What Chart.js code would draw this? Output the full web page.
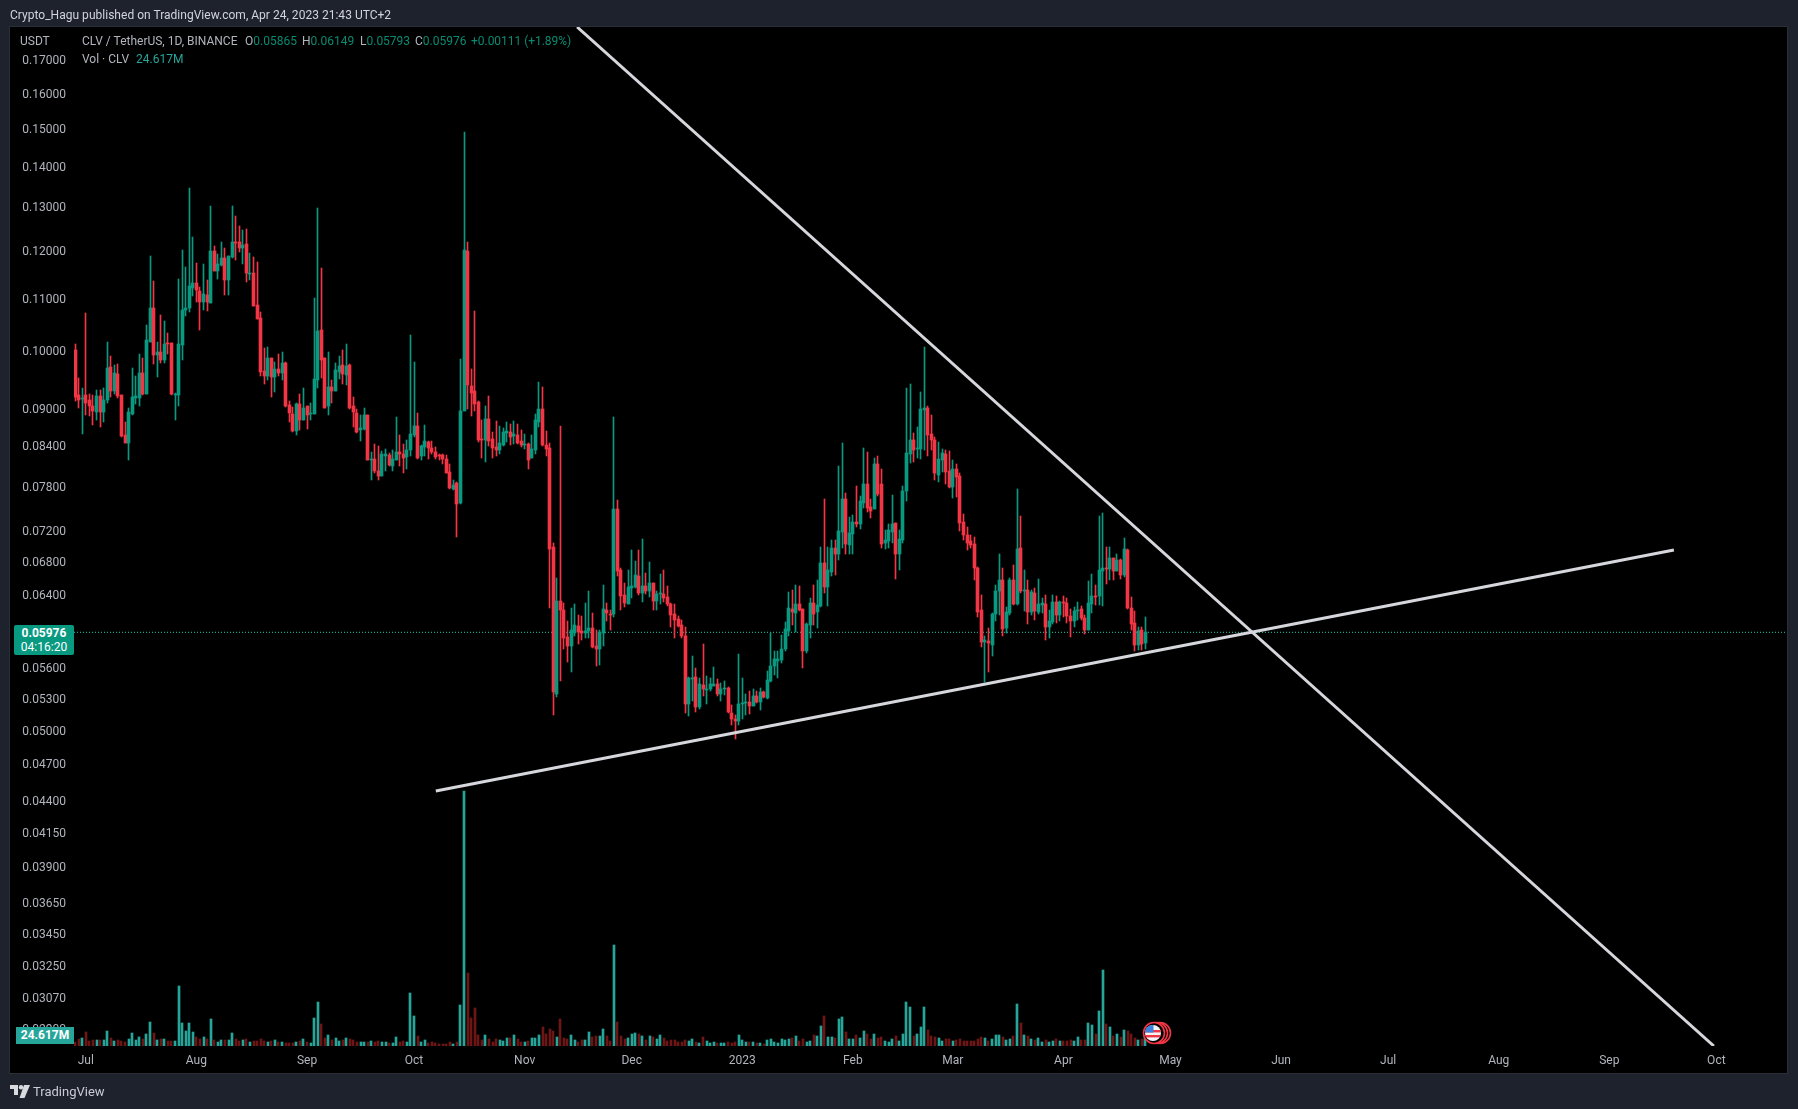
<!DOCTYPE html>
<html><head><meta charset="utf-8">
<script src="https://cdn.jsdelivr.net/npm/chart.js@4"></script>
<style>
html,body{margin:0;padding:0;background:#1e222d;width:1798px;height:1109px;overflow:hidden;font-family:Roboto,sans-serif}
#c{position:absolute;left:0;top:0}
.t{position:absolute;white-space:pre;font-size:12px;line-height:14px;color:#b2b5be}
.g{color:#0b8a72}
.box{position:absolute;color:#fff;text-align:center;font-size:12px}
svg{position:absolute}
</style></head><body>
<canvas id="c" width="1798" height="1109"></canvas>
<div class="t" style="left:10px;top:8px;color:#d1d4dc;letter-spacing:.02px">Crypto_Hagu published on TradingView.com, Apr 24, 2023 21:43 UTC+2</div>
<div class="t" style="left:20px;top:34px">USDT</div>
<div class="t" style="left:82px;top:34px">CLV / TetherUS, 1D, BINANCE</div>
<div class="t" style="left:245px;top:34px">O<span class="g">0.05865</span></div>
<div class="t" style="left:302px;top:34px">H<span class="g">0.06149</span></div>
<div class="t" style="left:360px;top:34px">L<span class="g">0.05793</span></div>
<div class="t" style="left:415px;top:34px">C<span class="g">0.05976</span></div>
<div class="t g" style="left:471px;top:34px;letter-spacing:-.03px">+0.00111 (+1.89%)</div>
<div class="t" style="left:82px;top:52px">Vol · CLV</div>
<div class="t" style="left:136px;top:52px;color:#26a69a">24.617M</div>
<div class="box" style="left:14px;top:625px;width:60px;height:30px;background:#089981;border-radius:2px;line-height:14px;padding-top:1px;box-sizing:border-box"><b>0.05976</b><br>04:16:20</div>
<div class="box" style="left:16px;top:1027px;width:58px;height:17px;background:#26a69a;line-height:17px;font-weight:700">24.617M</div>
<svg style="left:1140px;top:1020px" width="34" height="26" viewBox="0 0 34 26">
 <circle cx="20" cy="13" r="10.5" fill="#000" stroke="#f23645" stroke-width="1.6"/>
 <circle cx="17" cy="13" r="10.5" fill="#000" stroke="#f23645" stroke-width="1.6"/>
 <circle cx="14" cy="13" r="10.5" fill="#000" stroke="#f23645" stroke-width="1.6"/>
 <clipPath id="f"><circle cx="13" cy="13" r="8"/></clipPath>
 <g clip-path="url(#f)"><rect x="5" y="5" width="16" height="16" fill="#f4f4f4"/>
 <rect x="5" y="10" width="16" height="2.4" fill="#f23645"/><rect x="5" y="15" width="16" height="2.4" fill="#f23645"/>
 <rect x="5" y="5" width="8.5" height="7.5" fill="#3b82e0"/></g>
</svg>
<svg style="left:10px;top:1085px" width="20" height="13" viewBox="0 0 20 13" fill="#d8dae0">
 <path d="M0 0H8V10H4V4H0Z"/><circle cx="11" cy="2.2" r="2.2"/><path d="M14 0H20L14.5 13H9.5Z"/>
</svg>
<div class="t" style="left:33px;top:1084px;font-size:13px;line-height:16px;color:#c9ccd4">TradingView</div>
<script>
const priceTicks=[0.17,0.16,0.15,0.14,0.13,0.12,0.11,0.10,0.09,0.084,0.078,0.072,0.068,0.064,0.056,0.053,0.05,0.047,0.044,0.0415,0.039,0.0365,0.0345,0.0325,0.0307,0.029];
const monthLabels=["Jul","Aug","Sep","Oct","Nov","Dec","2023","Feb","Mar","Apr","May","Jun","Jul","Aug","Sep","Oct"];
const monthDays=[0,31,62,92,123,153,184,215,243,274,304,335,365,396,427,457];
const firstDay=-3;
const opens=[.1001,.0922,.0916,.0922,.0914,.0904,.0894,.0920,.0893,.0913,
.0970,.0929,.0958,.0922,.0857,.0845,.0891,.0917,.0917,.0959,
.0924,.1016,.1081,.0991,.0998,.0982,.1013,.1013,.0923,.0922,
.1010,.1076,.1080,.1121,.1131,.1115,.1093,.1107,.1091,.1199,
.1156,.1169,.1184,.1137,.1187,.1219,.1219,.1205,.1215,.1150,
.1152,.1087,.1061,.0963,.0955,.0986,.0952,.0967,.0959,.0978,
.0905,.0891,.0863,.0907,.0880,.0904,.0890,.0891,.0948,.1038,
.0986,.0903,.0936,.0928,.0962,.0974,.0956,.0974,.0904,.0892,
.0864,.0866,.0888,.0819,.0820,.0802,.0795,.0825,.0826,.0810,
.0819,.0830,.0828,.0823,.0833,.0857,.0871,.0824,.0838,.0846,
.0837,.0830,.0826,.0826,.0820,.0801,.0777,.07855,.07565,.0896,
.1199,.0937,.0928,.0910,.0850,.0849,.0883,.0850,.0838,.0833,
.0842,.0860,.0861,.0856,.0857,.0847,.0841,.0843,.0821,.0834,
.0878,.0898,.0842,.0837,.0698,.0534,.0633,.0623,.0593,.0583,
.0597,.0605,.0599,.0597,.0599,.0602,.0583,.0580,.0597,.0623,
.0618,.0618,.0749,.0670,.0640,.0629,.0648,.0649,.0662,.0642,
.0650,.0645,.0654,.0633,.0641,.0641,.0638,.0629,.0618,.0612,
.0606,.0594,.0524,.0549,.0551,.0521,.0543,.0538,.0539,.0542,
.0544,.0534,.0539,.0540,.0516,.0510,.0508,.0524,.0525,.0526,
.0522,.0532,.0526,.0536,.0530,.0547,.0562,.0567,.0568,.0580,
.0599,.0624,.0619,.0629,.0624,.0578,.0606,.0631,.0620,.0627,
.0678,.0649,.0667,.0697,.0690,.0718,.0763,.0701,.0715,.0731,
.0728,.0757,.0784,.0751,.0748,.0812,.0784,.0703,.0706,.0718,
.0730,.0689,.0707,.0773,.0827,.0849,.0835,.0835,.0897,.0901,
.0859,.0849,.0797,.0819,.0828,.0802,.0779,.0806,.0795,.0731,
.0714,.0706,.0702,.0672,.0622,.0587,.0588,.0584,.0618,.0644,
.0658,.0602,.0619,.0657,.0629,.0697,.0644,.0646,.0620,.0642,
.0620,.0628,.0629,.0604,.0609,.0632,.0617,.0632,.0630,.0616,
.0610,.0621,.0624,.0614,.0600,.0629,.0639,.0639,.0668,.0672,
.0671,.0684,.0669,.0682,.0663,.0695,.0625,.0608,.0584,.0600,
.05865];
const closes=[.0919,.0914,.0917,.0909,.0903,.0895,.0920,.0893,.0914,.0969,
.0928,.0959,.0920,.0856,.0845,.0894,.0918,.0920,.0959,.0924,
.1019,.1081,.0992,.0998,.0982,.1012,.1012,.0923,.0924,.1012,
.1077,.1081,.1125,.1131,.1116,.1093,.1109,.1093,.1199,.1156,
.1171,.1184,.1138,.1188,.1219,.1218,.1205,.1213,.1152,.1152,
.1085,.1060,.0962,.0955,.0986,.0952,.0967,.0960,.0978,.0903,
.0892,.0863,.0907,.0880,.0900,.0889,.0892,.0949,.1036,.0983,
.0901,.0936,.0929,.0965,.0972,.0957,.0972,.0900,.0893,.0862,
.0868,.0889,.0819,.0820,.0802,.0795,.0828,.0827,.0811,.0820,
.0831,.0827,.0822,.0834,.0858,.0871,.0822,.0840,.0848,.0837,
.0830,.0823,.0825,.0820,.0800,.0778,.0782,.0756,.0895,.1201,
.0938,.0925,.0907,.0849,.0849,.0883,.0848,.0837,.0833,.0844,
.0861,.0863,.0854,.0858,.0845,.0841,.0843,.0819,.0836,.0881,
.0898,.0842,.0836,.0696,.0536,.0633,.0623,.0592,.0583,.0600,
.0606,.0598,.0597,.0599,.0602,.0582,.0580,.0598,.0624,.0619,
.0617,.0748,.0669,.0639,.0630,.0649,.0650,.0663,.0642,.0650,
.0645,.0654,.0633,.0641,.0642,.0636,.0629,.0617,.0611,.0605,
.0594,.0524,.0550,.0550,.0521,.0544,.0539,.0539,.0544,.0544,
.0534,.0539,.0540,.0517,.0510,.0508,.0524,.0525,.0526,.0522,
.0532,.0526,.0536,.0531,.0548,.0562,.0569,.0569,.0580,.0601,
.0625,.0620,.0629,.0623,.0578,.0607,.0630,.0618,.0628,.0678,
.0649,.0670,.0697,.0690,.0719,.0763,.0702,.0716,.0731,.0728,
.0760,.0783,.0750,.0746,.0812,.0770,.0702,.0707,.0720,.0728,
.0690,.0709,.0774,.0829,.0849,.0834,.0837,.0899,.0900,.0857,
.0849,.0799,.0820,.0829,.0801,.0779,.0806,.0793,.0730,.0714,
.0704,.0701,.0672,.0620,.0587,.0589,.0586,.0618,.0645,.0658,
.0601,.0620,.0658,.0629,.0696,.0645,.0646,.0620,.0643,.0621,
.0629,.0630,.0604,.0610,.0632,.0617,.0632,.0630,.0616,.0610,
.0621,.0623,.0613,.0600,.0630,.0639,.0638,.0670,.0672,.0671,
.0685,.0669,.0682,.0663,.0696,.0625,.0607,.0584,.0599,.0585,
.05976];
const highs=[.1012,.0951,.0934,.1071,.0924,.0922,.0931,.0931,.0933,.1016,
.0990,.0974,.0976,.0922,.0878,.0900,.0968,.0954,.0994,.0986,
.1048,.1189,.1135,.1016,.1066,.1056,.1032,.1013,.0925,.1140,
.1202,.1165,.1345,.1230,.1173,.1123,.1171,.1138,.1302,.1211,
.1193,.1219,.1206,.1188,.1302,.1279,.1254,.1247,.1248,.1194,
.1186,.1175,.1073,.1004,.1006,.0986,.0979,.0994,.0997,.0979,
.0912,.0902,.0908,.0924,.0933,.0904,.0908,.1100,.1298,.1162,
.0986,.0998,.0948,.0977,.0989,.1001,.1012,.0975,.0919,.0899,
.0889,.0900,.0888,.0831,.0843,.0840,.0832,.0836,.0829,.0833,
.0886,.0857,.0843,.0849,.1028,.0979,.0892,.0841,.0873,.0848,
.0847,.0838,.0828,.0828,.0826,.0813,.0790,.0787,.0985,.1491,
.1220,.0967,.1075,.0911,.0881,.0904,.0920,.0861,.0879,.0871,
.0868,.0877,.0874,.0879,.0874,.0865,.0858,.0844,.0857,.0891,
.0944,.0936,.0863,.0844,.0703,.0660,.0871,.0631,.0610,.0625,
.0629,.0617,.0616,.0631,.0644,.0619,.0600,.0600,.0651,.0630,
.0623,.0886,.0761,.0672,.0654,.0670,.0694,.0681,.0694,.0709,
.0666,.0679,.0654,.0645,.0665,.0670,.0650,.0630,.0629,.0616,
.0611,.0603,.0551,.0572,.0560,.0550,.0585,.0552,.0550,.0561,
.0549,.0545,.0547,.0541,.0523,.0514,.0574,.0550,.0534,.0537,
.0539,.0537,.0540,.0537,.0557,.0597,.0578,.0578,.0595,.0609,
.0643,.0646,.0651,.0650,.0624,.0608,.0636,.0651,.0657,.0699,
.0762,.0699,.0707,.0708,.0810,.0845,.0771,.0738,.0741,.0780,
.0767,.0837,.0831,.0762,.0822,.0824,.0805,.0721,.0729,.0768,
.0730,.0721,.0780,.0933,.0940,.0860,.0869,.0927,.1006,.0904,
.0888,.0853,.0846,.0835,.0834,.0832,.0818,.0812,.0799,.0742,
.0724,.0714,.0711,.0673,.0640,.0594,.0602,.0619,.0652,.0690,
.0672,.0626,.0660,.0676,.0777,.0739,.0670,.0657,.0646,.0648,
.0659,.0636,.0640,.0623,.0640,.0639,.0633,.0639,.0636,.0624,
.0626,.0632,.0627,.0617,.0656,.0665,.0652,.0739,.0743,.0698,
.0698,.0684,.0690,.0683,.0710,.0696,.0637,.0621,.0604,.0603,
.06149];
const lows=[.0911,.0901,.0858,.0889,.0887,.0873,.0881,.0870,.0877,.0908,
.0919,.0924,.0917,.0854,.0844,.0818,.0888,.0907,.0904,.0922,
.0924,.1016,.0976,.0952,.0977,.0978,.0994,.0922,.0881,.0904,
.0982,.1064,.1072,.1105,.1093,.1038,.1076,.1074,.1091,.1156,
.1140,.1167,.1107,.1107,.1183,.1180,.1197,.1171,.1133,.1137,
.1084,.1059,.0954,.0940,.0947,.0919,.0927,.0954,.0948,.0902,
.0877,.0862,.0857,.0865,.0880,.0867,.0881,.0890,.0934,.0951,
.0901,.0889,.0908,.0928,.0949,.0941,.0939,.0899,.0870,.0860,
.0848,.0865,.0818,.0789,.0800,.0790,.0795,.0802,.0810,.0802,
.0819,.0810,.0800,.0806,.0825,.0854,.0820,.0818,.0825,.0820,
.0827,.0820,.0818,.0812,.0799,.0777,.0775,.0711,.0755,.0896,
.0898,.0887,.0896,.0846,.0822,.0815,.0840,.0822,.0825,.0827,
.0840,.0846,.0842,.0843,.0843,.0839,.0835,.0805,.0821,.0828,
.0869,.0840,.0825,.0625,.0514,.0531,.0547,.0580,.0566,.0556,
.0594,.0585,.0589,.0591,.0591,.0581,.0562,.0563,.0583,.0610,
.0600,.0615,.0662,.0623,.0626,.0629,.0636,.0648,.0640,.0632,
.0641,.0638,.0622,.0622,.0629,.0632,.0627,.0603,.0592,.0603,
.0592,.0516,.0513,.0527,.0517,.0520,.0532,.0524,.0537,.0542,
.0532,.0527,.0533,.0516,.0505,.0492,.0505,.0510,.0514,.0515,
.0522,.0525,.0519,.0530,.0529,.0546,.0553,.0550,.0565,.0578,
.0594,.0606,.0598,.0621,.0560,.0575,.0591,.0606,.0602,.0626,
.0642,.0627,.0662,.0664,.0682,.0697,.0690,.0689,.0689,.0724,
.0722,.0750,.0745,.0737,.0748,.0766,.0697,.0696,.0697,.0703,
.0659,.0670,.0703,.0760,.0814,.0816,.0822,.0820,.0834,.0824,
.0834,.0790,.0787,.0801,.0783,.0778,.0764,.0765,.0719,.0707,
.0694,.0697,.0657,.0615,.0582,.0546,.0556,.0572,.0610,.0617,
.0594,.0597,.0617,.0628,.0628,.0642,.0621,.0607,.0617,.0611,
.0618,.0619,.0589,.0591,.0607,.0608,.0610,.0615,.0608,.0593,
.0604,.0611,.0611,.0596,.0600,.0619,.0628,.0628,.0627,.0653,
.0657,.0658,.0668,.0659,.0661,.0624,.0600,.0578,.0579,.0579,
.05793];
const volumesM=[9.6,15,17.2,31.4,11.9,13.4,13.4,13.4,13.4,33.6,
17.9,11.2,13.4,11.9,9.6,15.7,29.1,13.4,20.2,15.7,
26.9,53.8,29.1,13.4,15.7,15.7,11.2,11.2,11.2,134.4,
51.5,33.6,51.5,31.4,20.2,15.7,20.2,15.7,60.5,13.4,
9,13.4,13.4,13.4,29.1,15.7,11.2,13.4,15.7,9,
11.2,11.2,15.7,11.2,9,11.2,13.4,9,9,7.4,
6.7,6.7,9,11.2,15.7,9,6.7,62.7,98.6,49.3,
17.9,24.6,13.4,17.9,11.2,13.4,17.9,15.7,13.4,9,
9,9,9,11.2,9,11.2,9,9,6.7,6.7,
20.2,9,11.2,9,118.7,67.2,22.4,9,13.4,6.7,
9,6.7,4.5,4.5,4.5,9,4.5,9,91.8,571,
163.5,62.7,85.1,24.6,13.4,24.6,15.7,9,15.7,13.4,
11.2,17.9,17.9,24.6,15.7,9,9,11.2,17.9,17.9,
24.6,42.6,26.9,38,33.6,20.2,60.5,17.9,15.7,24.6,
13.4,9,13.4,13.4,31.4,20.2,22.4,22.4,38,22.4,
11.2,226.2,53.8,22.4,15.7,17.9,26.9,29.1,26.9,22.4,
13.4,22.4,20.2,15.7,24.6,17.9,11.2,13.4,13.4,9,
9,13.4,11.2,15.7,9,6.7,20.2,11.2,6.7,9,
6.7,6.7,6.7,9,6.7,9,24.6,13.4,9,9,
9,6.7,6.7,4.5,13.4,15.7,9,6.7,15.7,13.4,
15.7,17.9,22.4,11.2,15.7,9,11.2,24.6,22.4,44.8,
67.2,20.2,20.2,17.9,60.5,65,31.4,15.7,15.7,24.6,
17.9,33.6,26.9,15.7,26.9,17.9,20.2,11.2,9,15.7,
22.4,11.2,26.9,98.6,87.4,22.4,26.9,42.6,87.4,35.8,
22.4,20.2,17.9,11.2,15.7,15.7,11.2,13.4,15.7,11.2,
11.2,11.2,11.2,15.7,20.2,17.9,11.2,15.7,24.6,24.6,
20.2,13.4,15.7,22.4,94.1,51.5,24.6,22.4,15.7,13.4,
17.9,9,13.4,9,11.2,15.7,11.2,11.2,11.2,13.4,
11.2,20.2,13.4,13.4,51.5,47,26.9,78.4,170.2,49.3,
42.6,22.4,26.9,20.2,35.8,33.6,26.9,17.9,13.4,15.7,
24.617];
const lastClose=0.05976;
const supportLine=[{x:98.1,y:0.04473},{x:445.1,y:0.06945}];
const resistanceLine=[{x:137.7,y:0.1805},{x:456.3,y:0.02808}];
const xRange=[-3.31,476.8], priceRange=[0.02808,0.1805], volumeMax=2282.6;

const UP='#089981',DOWN='#f23645',VUP='#26a69a',VDOWN='#6e1616',AXIS='#b2b5be',LINE='#d6d7dc';
const days=opens.map((_,i)=>firstDay+i);
const up=opens.map((o,i)=>closes[i]>=o);
const candleColors=up.map(u=>u?UP:DOWN);
const volColors=up.map(u=>u?VUP:VDOWN);

const panel={id:'panel',beforeDraw(ch){const c=ch.ctx,a=ch.chartArea,xs=ch.scales.x;
  c.save();c.fillStyle='#000';c.fillRect(10,a.top,a.right-10,xs.bottom-a.top);
  c.strokeStyle='#2a2e39';c.lineWidth=1;c.strokeRect(9.5,a.top-.5,a.right-9,xs.bottom-a.top+1);c.restore();}};
// Snap candle and volume bars to the pixel grid so they stay crisp; nudge price labels to sit on their ticks.
const snap={id:'snap',afterDatasetsUpdate(ch){ch.getSortedVisibleDatasetMetas().forEach(m=>{
  if(m.type!=='bar')return;
  m.data.forEach(el=>{el.x=m.yAxisID==='v'?Math.round(el.x):Math.floor(el.x)+.5;el.y=Math.round(el.y);el.base=Math.round(el.base);
    if(m.yAxisID==='y'&&el.y===el.base)el.base=el.y+1;});});
  ch.scales.y.getLabelItems(ch.chartArea).forEach(it=>{it.options.translation=[it.options.translation[0],it.options.translation[1]+1.5];});
}};

new Chart(document.getElementById('c'),{
 type:'bar',
 data:{datasets:[
  {type:'line',data:supportLine,borderColor:LINE,borderWidth:3,pointRadius:0,yAxisID:'y',order:1},
  {type:'line',data:resistanceLine,borderColor:LINE,borderWidth:3,pointRadius:0,yAxisID:'y',order:1},
  {data:days.map((d,i)=>({x:d,y:[Math.min(opens[i],closes[i]),Math.max(opens[i],closes[i])]})),backgroundColor:candleColors,barThickness:3,yAxisID:'y',order:2},
  {data:days.map((d,i)=>({x:d,y:[lows[i],highs[i]]})),backgroundColor:candleColors,barThickness:1,yAxisID:'y',order:3},
  {type:'line',data:xRange.map(x=>({x,y:lastClose})),borderColor:'#0fa88e',borderWidth:1.4,borderDash:[1,2],pointRadius:0,yAxisID:'y',order:4},
  {data:days.map((d,i)=>({x:d,y:volumesM[i]})),backgroundColor:volColors,barThickness:2,yAxisID:'v',order:5}
 ]},
 options:{responsive:false,animation:false,devicePixelRatio:1,
  layout:{padding:{left:10,right:11,top:27,bottom:36}},
  plugins:{legend:{display:false},tooltip:{enabled:false}},
  datasets:{bar:{grouped:false,borderWidth:0}},
  scales:{
   x:{type:'linear',offset:false,min:xRange[0],max:xRange[1],grid:{display:false,drawTicks:false},border:{display:false},
    afterBuildTicks(s){s.ticks=monthDays.map(v=>({value:v}));},
    afterFit(s){s.height=27;s.paddingLeft=0;s.paddingRight=0;},
    ticks:{autoSkip:false,maxRotation:0,padding:8,color:AXIS,font:{family:'Roboto',size:12},
      callback(v){return monthLabels[monthDays.indexOf(v)];}}},
   y:{type:'logarithmic',position:'left',min:priceRange[0],max:priceRange[1],grid:{display:false,drawTicks:false},border:{display:false},
    afterBuildTicks(s){s.ticks=priceTicks.map(v=>({value:v}));},
    afterFit(s){s.width=64;s.paddingTop=0;s.paddingBottom=0;},
    ticks:{autoSkip:false,padding:8,color:AXIS,font:{family:'Roboto',size:12},callback(v){return v.toFixed(5);}}},
   v:{type:'linear',display:false,min:0,max:volumeMax}
  }},
 plugins:[panel,snap]
});
</script>
</body></html>
